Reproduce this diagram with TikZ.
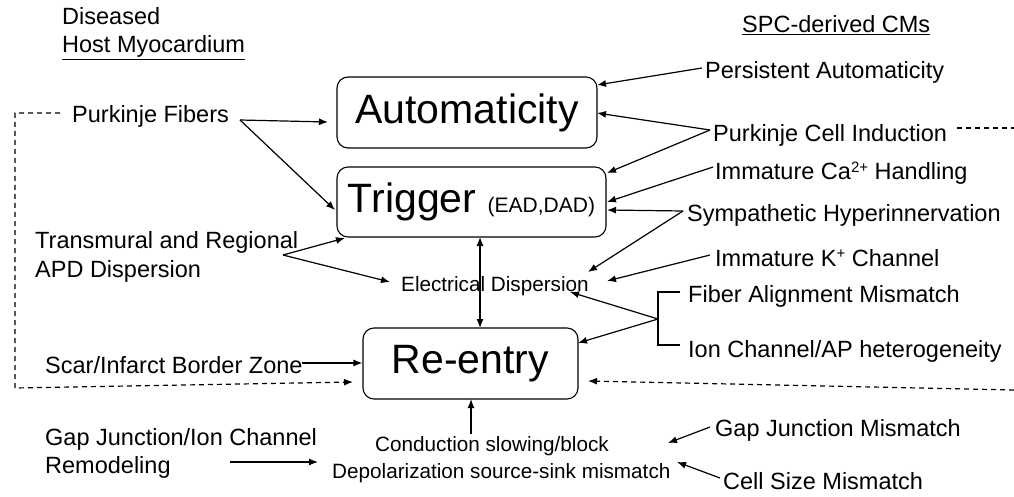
\documentclass[tikz,border=0pt]{standalone}
\usepackage{fontspec}
\setmainfont{Liberation Sans}
\usetikzlibrary{arrows.meta}
\newcommand{\mysup}[1]{\raisebox{0.33em}{\fontsize{15}{15}\selectfont #1}}
\begin{document}
\begin{tikzpicture}[x=1pt,y=-1pt,
  lbl/.style={anchor=base west,inner sep=0pt,font=\fontsize{23.5}{28}\selectfont},
  sml/.style={anchor=base west,inner sep=0pt,font=\fontsize{20.7}{25}\selectfont},
  bigbox/.style={draw,rounded corners=11pt,line width=1.1pt,inner sep=0pt,font=\fontsize{41}{48}\selectfont},
  arr/.style={line width=1.2pt,-{Latex[length=9pt,width=7pt]}},
  darr/.style={line width=1.2pt,{Latex[length=9pt,width=7pt]}-{Latex[length=9pt,width=7pt]}},
  ln/.style={line width=1.2pt},
  dsh/.style={line width=1.2pt,dash pattern=on 5pt off 4pt}]
\useasboundingbox (0,0) rectangle (1014,497);
% boxes
\node[bigbox,minimum width=260pt,minimum height=71pt] (auto) at (467,112.5) {Automaticity};
\node[bigbox,minimum width=269pt,minimum height=70pt] (trig) at (471.5,202) {Trigger {\fontsize{21}{25}\selectfont (EAD,DAD)}};
\node[bigbox,minimum width=215pt,minimum height=71pt] (reen) at (470.5,363.5) {Re-entry};
% headers
\node[lbl] (dis) at (62,25) {Diseased};
\node[lbl] (host) at (62,53) {\underline{Host Myocardium}};
\node[lbl] (spc) at (742,33) {\underline{SPC-derived CMs}};
% left labels
\node[lbl] (pf) at (72,123) {Purkinje Fibers};
\node[lbl] (tr1) at (35,248) {Transmural and Regional};
\node[lbl] (tr2) at (35,277) {APD Dispersion};
\node[lbl] (scar) at (45,373) {Scar/Infarct Border Zone};
\node[lbl] (gj1) at (45,445) {Gap Junction/Ion Channel};
\node[lbl] (gj2) at (45,473) {Remodeling};
% right labels
\node[lbl] (pa) at (705,79) {Persistent Automaticity};
\node[lbl] (pci) at (713,142) {Purkinje Cell Induction};
\node[lbl] (ca) at (715,180) {Immature Ca\mysup{2+} Handling};
\node[lbl] (sym) at (687,221) {Sympathetic Hyperinnervation};
\node[lbl] (kch) at (715,266) {Immature K\mysup{+} Channel};
\node[lbl] (fam) at (688,302) {Fiber Alignment Mismatch};
\node[lbl] (ion) at (688,357) {Ion Channel/AP heterogeneity};
\node[lbl] (gjm) at (715,436) {Gap Junction Mismatch};
\node[lbl] (csm) at (723,489) {Cell Size Mismatch};
% middle small labels
\node[sml] (ed) at (401,291) {Electrical Dispersion};
\node[sml] (cond) at (375,451) {Conduction slowing/block};
\node[sml] (depo) at (332,478) {Depolarization source-sink mismatch};
% coordinates
\coordinate (pfs) at (240,120);
\coordinate (pfa) at (328,122);
\coordinate (pft) at (335,210);
\coordinate (trs) at (283,255);
\coordinate (trt) at (345,238);
\coordinate (tre) at (390,282);
\coordinate (scs) at (302,363);
\coordinate (gjs) at (230,462);
\coordinate (gje) at (318,462);
\coordinate (edt) at (480,237);
\coordinate (edb) at (480,328);
\coordinate (cnd) at (471,434);
\coordinate (cnr) at (471,399);
\coordinate (pas) at (702,68);
\coordinate (pat) at (597,85);
\coordinate (pcis) at (710,130);
\coordinate (pcia) at (597,113);
\coordinate (pcit) at (607,173);
\coordinate (cas) at (713,167);
\coordinate (cat) at (607,202);
\coordinate (syms) at (683,211);
\coordinate (symt) at (607,210);
\coordinate (syme) at (588,272);
\coordinate (ks) at (710,255);
\coordinate (kt) at (607,281);
\coordinate (brk) at (658,319);
\coordinate (brt) at (680,292);
\coordinate (brb) at (680,345);
\coordinate (bre) at (570,292);
\coordinate (brr) at (578,343);
\coordinate (gjms) at (710,427);
\coordinate (gjmt) at (668,443);
\coordinate (csms) at (720,478);
\coordinate (csmt) at (677,462);
% left arrows
\draw[arr] (pfs) -- (pfa);
\draw[arr] (pfs) -- (pft);
\draw[arr] (trs) -- (trt);
\draw[arr] (trs) -- (tre);
\draw[arr] (scs) -- (scs -| reen.west);
\draw[arr] (gjs) -- (gje);
% middle
\draw[darr] (edt) -- (edb);
\draw[arr] (cnd) -- (cnr);
% right arrows
\draw[arr] (pas) -- (pat);
\draw[arr] (pcis) -- (pcia);
\draw[arr] (pcis) -- (pcit);
\draw[arr] (cas) -- (cat);
\draw[arr] (syms) -- (symt);
\draw[arr] (syms) -- (syme);
\draw[arr] (ks) -- (kt);
\draw[ln] (brt) -- (brt -| brk) -- (brb -| brk) -- (brb);
\draw[arr] (brk) -- (bre);
\draw[arr] (brk) -- (brr);
\draw[arr] (gjms) -- (gjmt);
\draw[arr] (csms) -- (csmt);
% dashed loops
\draw[dsh,-{Latex[length=9pt,width=7pt]}] (60,113) -- (15,113) -- (15,388) -- (353,382);
\draw[dsh] (957,128) -- (1014,128);
\draw[dsh,-{Latex[length=9pt,width=7pt]}] (1014,390) -- (588,381);
\end{tikzpicture}
\end{document}
